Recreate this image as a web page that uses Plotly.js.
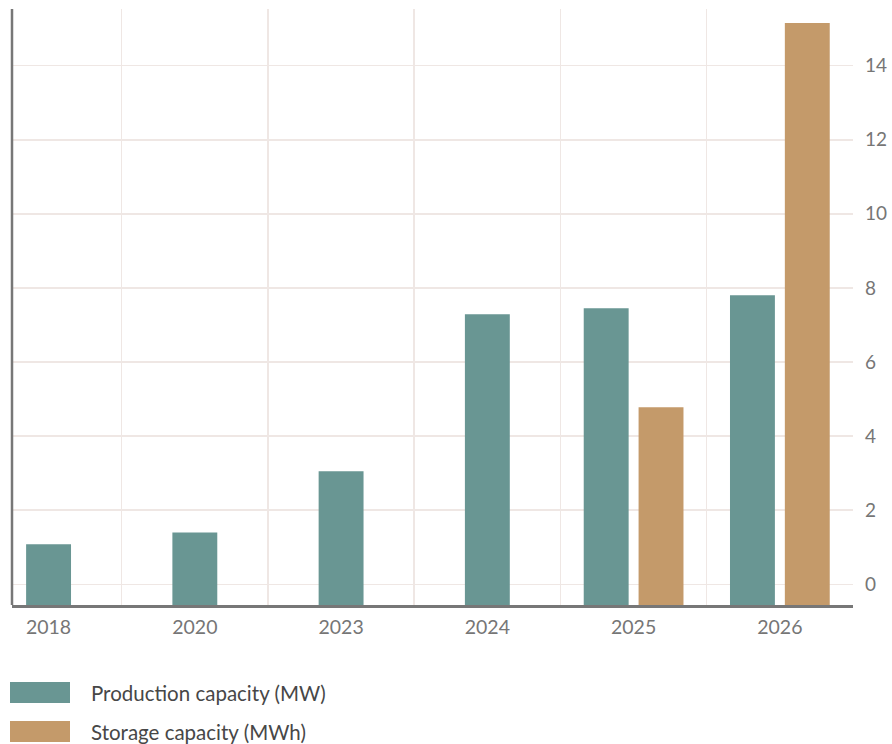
<!DOCTYPE html>
<html>
<head>
<meta charset="utf-8">
<script src="https://cdn.plot.ly/plotly-3.0.1.min.js"></script>
<style>html,body{margin:0;padding:0;background:#fff;}#chart{width:892px;height:744px;}</style>
</head>
<body>
<div id="chart"></div>
<script>
// ---- data ----
const years = ['2018', '2020', '2023', '2024', '2025', '2026'];
const production = [1.08, 1.40, 3.05, 7.29, 7.45, 7.80];
const storage = [null, null, null, null, 4.78, 15.15];
const seriesNames = ['Production capacity (MW)', 'Storage capacity (MWh)'];
const yTickVals = [0, 2, 4, 6, 8, 10, 12, 14];

// ---- style ----
const colors = ['#699693', '#c49a6a'];
const yMin = -0.56, yMax = 15.53;
const barW = 0.307, gap = 0.068;
const font = 'Lato, "Open Sans", sans-serif';

const prodOffset = storage.map(s => (s === null ? -barW / 2 : -barW - gap / 2));
const storOffset = storage.map(() => gap / 2);

const traces = [
  {
    type: 'bar', name: seriesNames[0], x: years,
    y: production.map(v => v - yMin), base: yMin,
    width: barW, offset: prodOffset,
    marker: {color: colors[0], line: {width: 0}},
    showlegend: false, hoverinfo: 'skip'
  },
  {
    type: 'bar', name: seriesNames[1], x: years,
    y: storage.map(v => (v === null ? null : v - yMin)), base: yMin,
    width: barW, offset: storOffset,
    marker: {color: colors[1], line: {width: 0}},
    showlegend: false, hoverinfo: 'skip'
  }
];

const legendShapes = seriesNames.map((n, i) => ({
  type: 'rect', xref: 'paper', yref: 'paper',
  xsizemode: 'pixel', ysizemode: 'pixel', xanchor: 0, yanchor: 0,
  x0: -2, x1: 58, y0: -98 - i * 39, y1: -77 - i * 39,
  fillcolor: colors[i], line: {width: 0}, layer: 'above'
}));
// left axis line
legendShapes.push({
  type: 'line', xref: 'paper', yref: 'paper', x0: 0, x1: 0, y0: 0, y1: 1,
  line: {color: '#777', width: 2.5}, layer: 'above'
});
const legendAnn = seriesNames.map((n, i) => ({
  text: n, xref: 'paper', yref: 'paper', x: 0.091, y: 0,
  xanchor: 'left', yanchor: 'middle', yshift: -88 - i * 39,
  showarrow: false, font: {family: font, size: 20.5, color: '#474747'}
}));

const layout = {
  width: 892, height: 744,
  margin: {l: 12, r: 39, t: 9, b: 139},
  paper_bgcolor: '#fff', plot_bgcolor: '#fff',
  barmode: 'overlay',
  showlegend: false,
  font: {family: font, size: 19, color: '#767676'},
  xaxis: {
    type: 'category', range: [-0.25, 5.5],
    tickson: 'boundaries', ticks: '',
    showgrid: true, gridcolor: '#efe7e4', gridwidth: 1.5,
    showline: true, linecolor: '#777', linewidth: 2.5,
    zeroline: false, ticklabelstandoff: 3,
    tickfont: {family: font, size: 19.5, color: '#767676'}
  },
  yaxis: {
    side: 'right', range: [yMin, yMax],
    tickmode: 'array', tickvals: yTickVals, ticktext: yTickVals.map(String),
    ticks: '', showgrid: true, gridcolor: '#efe7e4', gridwidth: 1.5,
    showline: false, zeroline: false, ticklabelstandoff: 11,
    tickfont: {family: font, size: 19, color: '#767676'}
  },
  shapes: legendShapes,
  annotations: legendAnn
};

Plotly.newPlot('chart', traces, layout, {displayModeBar: false, staticPlot: true});
</script>
</body>
</html>
